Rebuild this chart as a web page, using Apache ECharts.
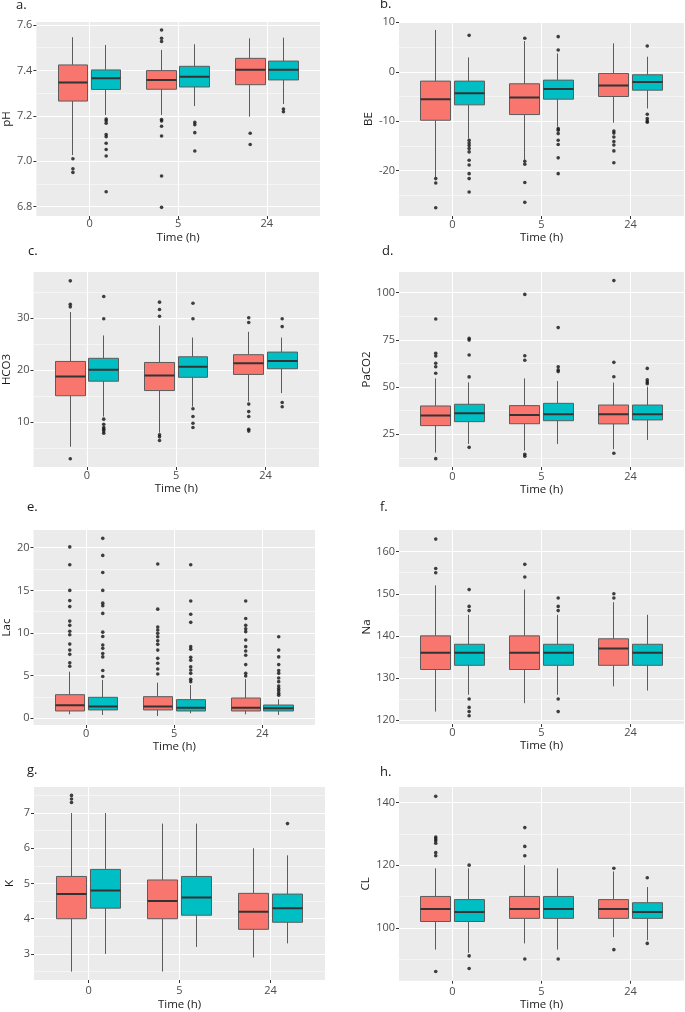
<!DOCTYPE html>
<html><head><meta charset="utf-8">
<script src="https://cdn.jsdelivr.net/npm/echarts@6.0.0/dist/echarts.min.js"></script>
<style>html,body{margin:0;padding:0;background:#fff}#c{width:685px;height:1012px}</style>
</head><body><div id="c"></div>
<script>
// Time points (categories)
const times = ['0', '5', '24'];

// Box stats per time: [lower whisker, Q1, median, Q3, upper whisker]; A = red group, B = teal group
const pH_A = [[7.027, 7.265, 7.347, 7.424, 7.546], [7.204, 7.317, 7.358, 7.399, 7.490], [7.196, 7.337, 7.403, 7.453, 7.541]];
const pH_B = [[7.204, 7.316, 7.365, 7.402, 7.512], [7.243, 7.327, 7.372, 7.418, 7.515], [7.252, 7.358, 7.403, 7.441, 7.544]];
const pH_A_out = [[7.011, 6.967, 6.951], [7.578, 7.541, 7.527, 7.184, 7.177, 7.154, 7.111, 6.935, 6.797], [7.123, 7.074]];
const pH_B_out = [[7.186, 7.178, 7.167, 7.118, 7.108, 7.079, 7.052, 7.023, 6.866], [7.171, 7.161, 7.126, 7.045], [7.230, 7.218]];
const pH_ticks = [6.8, 7.0, 7.2, 7.4, 7.6];
const pH_minor = [6.9, 7.1, 7.3, 7.5];

const BE_A = [[-21.3, -9.8, -5.54, -1.89, 8.45], [-17.8, -8.65, -5.2, -2.43, 6.2], [-10.3, -5.0, -2.77, -0.34, 5.74]];
const BE_B = [[-13.5, -6.69, -4.32, -1.89, 2.9], [-11.1, -5.54, -3.51, -1.69, 3.7], [-7.43, -3.72, -2.09, -0.61, 3.04]];
const BE_A_out = [[-21.6, -22.5, -27.5], [6.76, -18.1, -18.7, -22.4, -26.4], [-12.0, -12.4, -13.2, -14.1, -14.8, -16.0, -18.4]];
const BE_B_out = [[7.36, -13.85, -14.4, -14.9, -15.5, -16.2, -17.9, -18.85, -20.6, -21.6, -24.3], [7.1, 4.4, -11.5, -11.8, -12.5, -13.85, -14.7, -17.4, -20.6], [5.2, -8.58, -9.46, -9.93, -10.2]];
const BE_ticks = [-20, -10, 0, 10];
const BE_minor = [-25, -15, -5, 5];

const HCO3_A = [[5.3, 15.1, 18.8, 21.7, 31.2], [8.0, 16.1, 19.0, 21.5, 28.6], [14.0, 19.2, 21.35, 23.0, 27.4]];
const HCO3_B = [[11.1, 17.9, 20.1, 22.3, 26.7], [13.0, 18.65, 20.7, 22.6, 26.3], [15.6, 20.3, 21.8, 23.5, 26.3]];
const HCO3_A_out = [[37.2, 32.7, 32.2, 3.0], [33.1, 31.7, 30.4, 7.6, 7.2, 6.5], [30.1, 29.2, 13.5, 12.05, 11.1, 8.65, 8.3]];
const HCO3_B_out = [[34.2, 29.9, 10.6, 9.6, 9.0, 8.65, 8.3, 7.9], [32.9, 29.9, 12.6, 11.1, 9.8, 9.0], [29.9, 28.4, 13.8, 13.0]];
const HCO3_ticks = [10, 20, 30];
const HCO3_minor = [5, 15, 25, 35];

const PaCO2_A = [[15.3, 29.6, 34.9, 40.0, 54.6], [16.4, 30.6, 35.2, 40.2, 54.6], [17.1, 30.5, 35.6, 40.5, 52.4]];
const PaCO2_B = [[19.9, 31.7, 36.1, 40.9, 52.5], [19.9, 32.2, 35.6, 41.4, 53.2], [22.0, 32.6, 35.6, 40.5, 50.2]];
const PaCO2_A_out = [[86.1, 67.9, 66.5, 62.6, 60.8, 57.3, 12.1], [99.1, 66.6, 64.2, 14.4, 13.4], [106.4, 63.1, 55.5, 15.0]];
const PaCO2_B_out = [[75.8, 74.9, 67.0, 55.4, 18.1], [81.5, 60.8, 59.1, 58.2], [59.9, 53.8, 52.7, 51.8]];
const PaCO2_ticks = [25, 50, 75, 100];
const PaCO2_minor = [12.5, 37.5, 62.5, 87.5];

const Lac_A = [[0.47, 0.86, 1.52, 2.77, 5.47], [0.27, 0.98, 1.37, 2.54, 4.18], [0.47, 0.86, 1.25, 2.38, 4.6]];
const Lac_B = [[0.39, 0.98, 1.37, 2.46, 4.5], [0.59, 0.86, 1.25, 2.19, 3.9], [0.39, 0.86, 1.17, 1.56, 2.23]];
const Lac_A_out = [[20.1, 18.0, 15.0, 13.8, 13.1, 11.4, 10.9, 10.2, 9.8, 8.7, 8.0, 7.5, 6.5, 6.1], [18.1, 12.8, 10.7, 10.35, 9.96, 9.57, 9.1, 8.67, 8.0, 7.03, 6.45, 5.78, 5.2], [13.75, 11.7, 10.9, 10.5, 10.16, 9.18, 8.4, 7.9, 7.4, 6.3, 5.27, 4.96]];
const Lac_B_out = [[21.1, 19.1, 17.1, 15.0, 13.5, 13.2, 12.3, 10.1, 9.6, 8.6, 8.2, 7.6, 7.2, 5.6, 4.9], [18.0, 13.75, 12.2, 11.25, 8.4, 8.1, 7.15, 6.8, 6.05, 5.66, 5.27, 4.57, 4.3], [9.57, 8.0, 7.2, 6.3, 5.6, 5.27, 4.73, 4.3, 3.79, 3.5, 3.24, 2.93, 2.7]];
const Lac_ticks = [0, 5, 10, 15, 20];
const Lac_minor = [2.5, 7.5, 12.5, 17.5];

const Na_A = [[122, 132, 136, 140, 152], [124, 132, 136, 140, 151], [128, 133, 137, 139.3, 148]];
const Na_B = [[126, 133, 136, 138, 145], [126, 133, 136, 138, 145], [127, 133, 136, 138, 145]];
const Na_A_out = [[163, 156, 155], [157, 154], [150, 149]];
const Na_B_out = [[151, 147, 146, 125, 123, 122, 121], [149, 147, 146, 125, 122], []];
const Na_ticks = [120, 130, 140, 150, 160];
const Na_minor = [125, 135, 145, 155];

const K_A = [[2.5, 4.0, 4.7, 5.2, 7.0], [2.5, 4.0, 4.5, 5.1, 6.7], [2.9, 3.7, 4.2, 4.72, 6.0]];
const K_B = [[3.0, 4.3, 4.8, 5.4, 7.0], [3.2, 4.1, 4.6, 5.2, 6.7], [3.3, 3.9, 4.3, 4.7, 5.8]];
const K_A_out = [[7.5, 7.4, 7.3], [], []];
const K_B_out = [[], [], [6.7]];
const K_ticks = [3, 4, 5, 6, 7];
const K_minor = [2.5, 3.5, 4.5, 5.5, 6.5, 7.5];

const CL_A = [[93, 102, 106, 110, 119], [95, 103, 106, 110, 120], [97, 103, 106, 109, 118]];
const CL_B = [[92, 102, 105, 109, 119], [93, 103, 106, 110, 119], [96, 103, 105, 108, 113]];
const CL_A_out = [[142, 129, 128.4, 127.8, 127, 124, 123, 86], [132, 126, 123, 90], [119, 93]];
const CL_B_out = [[120, 91, 87], [90], [116, 95]];
const CL_ticks = [100, 120, 140];
const CL_minor = [90, 110, 130];

const FONT = '"Open Sans", "Noto Sans", sans-serif';
const COL_A = '#F8766D', COL_B = '#00BFC4';
const DODGE = 0.1875;

// Panel layout: rect = [left, top, width, height]
const panels = [
  {letter: 'a.', name: 'pH', dec: 1, A: pH_A, B: pH_B, Ao: pH_A_out, Bo: pH_B_out, ticks: pH_ticks, minor: pH_minor, lo: 6.759, hi: 7.613, rect: [33, 22, 287, 194], lx: 16, ly: -1, yg: 20.5, xm: 2.5, xg: 15.3},
  {letter: 'b.', name: 'BE', dec: 0, A: BE_A, B: BE_B, Ao: BE_A_out, Bo: BE_B_out, ticks: BE_ticks, minor: BE_minor, lo: -29.16, hi: 10.06, rect: [399, 22, 285, 194], lx: 380, ly: -2, yg: 21.5, xm: 3.5, xg: 14},
  {letter: 'c.', name: 'HCO3', dec: 0, A: HCO3_A, B: HCO3_B, Ao: HCO3_A_out, Bo: HCO3_B_out, ticks: HCO3_ticks, minor: HCO3_minor, lo: 1.4, hi: 38.9, rect: [32, 272, 287, 195], lx: 28, ly: 245, yg: 19, xm: 3.8, xg: 15.3},
  {letter: 'd.', name: 'PaCO2', dec: 0, A: PaCO2_A, B: PaCO2_B, Ao: PaCO2_A_out, Bo: PaCO2_B_out, ticks: PaCO2_ticks, minor: PaCO2_minor, lo: 7.68, hi: 110.96, rect: [399, 272, 285, 195], lx: 382, ly: 245, yg: 23.5, xm: 4.8, xg: 15},
  {letter: 'e.', name: 'Lac', dec: 0, A: Lac_A, B: Lac_B, Ao: Lac_A_out, Bo: Lac_B_out, ticks: Lac_ticks, minor: Lac_minor, lo: -0.785, hi: 22.08, rect: [32, 530, 283, 195], lx: 27, ly: 501, yg: 18.3, xm: 3.5, xg: 15.7},
  {letter: 'f.', name: 'Na', dec: 0, A: Na_A, B: Na_B, Ao: Na_A_out, Bo: Na_B_out, ticks: Na_ticks, minor: Na_minor, lo: 119.05, hi: 165.16, rect: [399, 530, 285, 194], lx: 380, ly: 501, yg: 23.5, xm: 3.8, xg: 16},
  {letter: 'g.', name: 'K', dec: 0, A: K_A, B: K_B, Ao: K_A_out, Bo: K_B_out, ticks: K_ticks, minor: K_minor, lo: 2.261, hi: 7.739, rect: [34, 787, 291, 195], lx: 27, ly: 764, yg: 18.3, xm: 5.5, xg: 19},
  {letter: 'h.', name: 'CL', dec: 0, A: CL_A, B: CL_B, Ao: CL_A_out, Bo: CL_B_out, ticks: CL_ticks, minor: CL_minor, lo: 83.08, hi: 144.98, rect: [399, 787, 285, 195], lx: 380, ly: 766, yg: 27, xm: 6, xg: 18.3}
];

const grid = [], xAxis = [], yAxis = [], series = [], title = [];
panels.forEach((p, k) => {
  grid.push({left: p.rect[0], top: p.rect[1], width: p.rect[2], height: p.rect[3], show: true, backgroundColor: '#EBEBEB', borderWidth: 0});
  title.push({text: p.letter, left: p.lx, top: p.ly, padding: 0,
    textStyle: {fontSize: 13, fontWeight: 'normal', color: '#1a1a1a', fontFamily: FONT}});
  const tickIdx = times.map((t, i) => i);
  xAxis.push({gridIndex: k, type: 'value', min: -0.6, max: 2.6, position: 'bottom',
    axisLine: {show: false, onZero: false},
    axisTick: {show: true, customValues: tickIdx, length: 3, lineStyle: {color: '#333', width: 1}},
    axisLabel: {customValues: tickIdx, formatter: v => times[Math.round(v)], margin: p.xm, color: '#4D4D4D', fontSize: 11, fontFamily: FONT},
    splitLine: {show: false},
    name: 'Time (h)', nameLocation: 'middle', nameGap: p.xg,
    nameTextStyle: {color: '#1a1a1a', fontSize: 11.5, fontFamily: FONT}});
  xAxis.push({gridIndex: k, type: 'value', min: -0.6 + DODGE, max: 2.6 + DODGE, show: false, axisLine: {onZero: false}});
  xAxis.push({gridIndex: k, type: 'value', min: -0.6 - DODGE, max: 2.6 - DODGE, show: false, axisLine: {onZero: false}});
  yAxis.push({gridIndex: k, type: 'value', min: p.lo, max: p.hi, position: 'left',
    axisLine: {show: false, onZero: false},
    axisTick: {show: true, customValues: p.ticks, length: 3, lineStyle: {color: '#333', width: 1}},
    axisLabel: {customValues: p.ticks, formatter: v => v.toFixed(p.dec), margin: 4, color: '#4D4D4D', fontSize: 11, fontFamily: FONT},
    splitLine: {show: true, lineStyle: {color: '#ffffff', width: 1.1}},
    name: p.name, nameLocation: 'middle', nameGap: p.yg, nameRotate: 90,
    nameTextStyle: {color: '#1a1a1a', fontSize: 11.5, fontFamily: FONT}});
  yAxis.push({gridIndex: k, type: 'value', min: p.lo, max: p.hi, position: 'left',
    axisLine: {show: false, onZero: false},
    axisTick: {show: false, customValues: p.minor},
    axisLabel: {show: false, customValues: p.minor},
    splitLine: {show: true, lineStyle: {color: '#ffffff', width: 0.5}}});
  const yi = 2 * k;
  // vertical grid lines at the time categories
  series.push({type: 'scatter', xAxisIndex: 3 * k, yAxisIndex: yi, data: [], silent: true,
    markLine: {silent: true, z: 1, symbol: ['none', 'none'], label: {show: false}, animation: false,
      emphasis: {disabled: true},
      lineStyle: {color: '#ffffff', width: 1.1, type: 'solid'},
      data: tickIdx.map(i => ({xAxis: i}))}});
  [[p.A, p.Ao, COL_A, 3 * k + 1], [p.B, p.Bo, COL_B, 3 * k + 2]].forEach(([box, out, col, xi]) => {
    series.push({type: 'candlestick', xAxisIndex: xi, yAxisIndex: yi, barWidth: '31.9%', silent: true,
      data: box.map((b, i) => [i, b[1], b[3], b[0], b[4]]),
      itemStyle: {color: col, color0: col, borderColor: '#5c5c5c', borderColor0: '#5c5c5c', borderWidth: 1}});
    series.push({type: 'candlestick', xAxisIndex: xi, yAxisIndex: yi, barWidth: '31.9%', silent: true, z: 3,
      data: box.map((b, i) => [i, b[2], b[2], b[2], b[2]]),
      itemStyle: {color: '#333', color0: '#333', borderColor: '#333', borderColor0: '#333', borderColorDoji: '#333', borderWidth: 2}});
    series.push({type: 'scatter', xAxisIndex: xi, yAxisIndex: yi, silent: true, z: 4, symbolSize: 3.6,
      data: out.flatMap((vs, i) => vs.map(v => [i, v])),
      itemStyle: {color: '#111'}});
  });
});

const chart = echarts.init(document.getElementById('c'), null, {renderer: 'canvas'});
chart.setOption({backgroundColor: '#ffffff', animation: false, textStyle: {fontFamily: FONT}, title, grid, xAxis, yAxis, series});
</script>
</body></html>
